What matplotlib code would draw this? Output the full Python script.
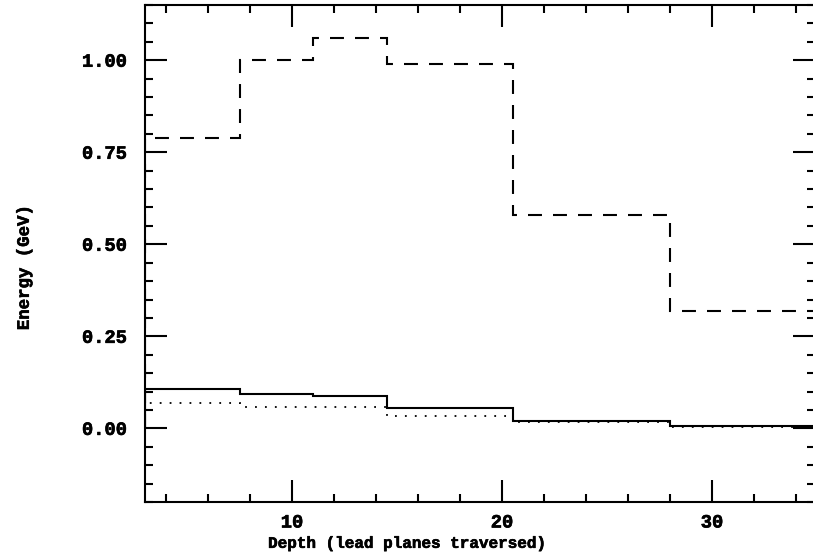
#!/usr/bin/env python3
"""
Energy deposited vs depth (lead planes traversed) - step histograms
"""

import matplotlib
matplotlib.use("Agg")
import matplotlib.pyplot as plt
import matplotlib.patheffects as pe
from matplotlib.ticker import MultipleLocator, FormatStrFormatter

# bin edges in depth (lead planes)
bin_edges = [3, 7.5, 11, 14.5, 20.5, 28, 35]

# energy per bin (GeV)
energy_dashed = [0.79, 1.00, 1.06, 0.99, 0.58, 0.32]
energy_solid = [0.106, 0.093, 0.088, 0.055, 0.021, 0.007]
energy_dotted = [0.070, 0.059, 0.057, 0.034, 0.017, 0.004]

plt.rcParams['font.family'] = ['Liberation Mono', 'DejaVu Sans Mono']
plt.rcParams['font.weight'] = 'bold'

# slightly heavier strokes, like the old plotter lettering
heavy = [pe.withStroke(linewidth=0.45, foreground='black')]

fig = plt.figure(figsize=(8.13, 5.59), dpi=100)
# right spine sits just past the image edge, as in the original scan
ax = fig.add_axes([145 / 813, 1 - 502 / 559, 670 / 813, 497 / 559])

ax.stairs(energy_dashed, bin_edges, color='black', linewidth=1.5,
          linestyle=(0, (6.7, 5.3)))
ax.stairs(energy_solid, bin_edges, color='black', linewidth=1.5)
ax.stairs(energy_dotted, bin_edges, color='black', linewidth=1.3,
          linestyle=(0, (1, 4.5)))

ax.set_xlim(3, 3 + 670 / 21)
ax.set_ylim(-0.2, 1.15)

ax.xaxis.set_major_locator(MultipleLocator(10))
ax.xaxis.set_minor_locator(MultipleLocator(2))
ax.yaxis.set_major_locator(MultipleLocator(0.25))
ax.yaxis.set_minor_locator(MultipleLocator(0.05))
ax.yaxis.set_major_formatter(FormatStrFormatter('%.2f'))

ax.tick_params(which='both', direction='in', top=True, right=True, width=1.5)
ax.tick_params(which='major', length=16)
ax.tick_params(which='minor', length=6)
ax.tick_params(axis='y', which='major', pad=13, labelsize=13.5)
ax.tick_params(axis='x', which='major', pad=9, labelsize=13.5)
for spine in ax.spines.values():
    spine.set_linewidth(1.5)

ax.set_xlabel('Depth (lead planes traversed)', fontsize=11.5, fontweight='bold')
ax.xaxis.set_label_coords(0.392, -0.068)
ax.set_ylabel('Energy (GeV)', fontsize=12.5, fontweight='bold')
ax.yaxis.set_label_coords(-0.169, 0.471)

for t in ax.get_xticklabels() + ax.get_yticklabels() + [ax.xaxis.label, ax.yaxis.label]:
    t.set_path_effects(heavy)

fig.savefig('out.png', dpi=100)
